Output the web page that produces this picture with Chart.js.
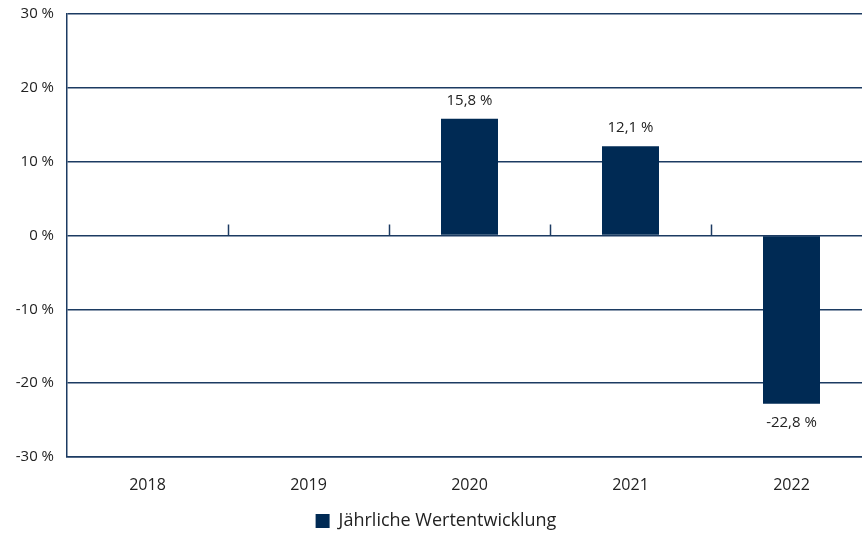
<!DOCTYPE html>
<html lang="de">
<head>
<meta charset="utf-8">
<title>Jährliche Wertentwicklung</title>
<script src="https://cdn.jsdelivr.net/npm/chart.js@4/dist/chart.umd.min.js"></script>
<style>
    html, body { margin: 0; padding: 0; background: #fff; overflow: hidden; }
    #wrap { width: 888px; height: 536px; }
</style>
</head>
<body>
<div id="wrap"><canvas id="perfChart" width="888" height="536"></canvas></div>
<script>
// Jahreswerte
const years = ['2018', '2019', '2020', '2021', '2022'];
const performance = [null, null, 15.8, 12.1, -22.8];
const yTicks = [-30, -20, -10, 0, 10, 20, 30];
const seriesLabel = 'Jährliche Wertentwicklung';

const NAVY = '#002a54';
const GRID = '#1c3b62';
const TEXT = '#222222';
const FONT = '"Open Sans", "Noto Sans", sans-serif';

function formatPct(v) {
    return v.toFixed(1).replace('.', ',') + ' %';
}

// Small tick marks on the zero line between the categories
const zeroTicks = {
    id: 'zeroTicks',
    afterDatasetsDraw(chart) {
        const x = chart.scales.x;
        const y0 = chart.scales.y.getPixelForValue(0);
        const ctx = chart.ctx;
        ctx.save();
        ctx.strokeStyle = GRID;
        ctx.lineWidth = 1.5;
        for (let i = 1; i < years.length; i++) {
            const px = Math.round((x.getPixelForValue(i - 1) + x.getPixelForValue(i)) / 2) + 0.5;
            ctx.beginPath();
            ctx.moveTo(px, y0);
            ctx.lineTo(px, y0 - 11);
            ctx.stroke();
        }
        ctx.restore();
    }
};

// Value labels above / below the bars
const valueLabels = {
    id: 'valueLabels',
    afterDatasetsDraw(chart) {
        const ctx = chart.ctx;
        const meta = chart.getDatasetMeta(0);
        ctx.save();
        ctx.font = '15px ' + FONT;
        ctx.fillStyle = TEXT;
        ctx.textAlign = 'center';
        ctx.textBaseline = 'middle';
        meta.data.forEach((bar, i) => {
            const v = performance[i];
            if (v === null) return;
            const ty = v >= 0 ? bar.y - 18 : bar.y + 19;
            ctx.fillText(formatPct(v), bar.x, ty);
        });
        ctx.restore();
    }
};

new Chart(document.getElementById('perfChart').getContext('2d'), {
    type: 'bar',
    data: {
        labels: years,
        datasets: [{
            label: seriesLabel,
            data: performance,
            backgroundColor: NAVY,
            borderWidth: 0,
            barPercentage: 0.354,
            categoryPercentage: 1
        }]
    },
    options: {
        responsive: false,
        animation: false,
        layout: { padding: { top: 14, right: 16, left: 0, bottom: -4 } },
        scales: {
            x: {
                afterFit(scale) {
                    scale.height = 54;
                },
                grid: { display: false, drawTicks: false },
                border: { display: true, color: GRID, width: 1.5 },
                ticks: {
                    color: TEXT,
                    font: { family: FONT, size: 16 },
                    padding: 19
                }
            },
            y: {
                min: -30,
                max: 30,
                afterBuildTicks(scale) {
                    scale.ticks = yTicks.map(v => ({ value: v }));
                },
                afterFit(scale) {
                    scale.width = 67;
                    scale.paddingTop = 0;
                    scale.paddingBottom = 0;
                },
                grid: { color: GRID, lineWidth: 1.5, drawTicks: false },
                border: { display: true, color: GRID, width: 1.5 },
                ticks: {
                    color: TEXT,
                    font: { family: FONT, size: 15 },
                    padding: 13,
                    callback: v => v + ' %'
                }
            }
        },
        plugins: {
            legend: {
                position: 'bottom',
                labels: {
                    color: TEXT,
                    font: { family: FONT, size: 18 },
                    boxWidth: 14,
                    boxHeight: 14,
                    padding: 1
                }
            },
            tooltip: { enabled: false }
        }
    },
    plugins: [zeroTicks, valueLabels]
});
</script>
</body>
</html>
